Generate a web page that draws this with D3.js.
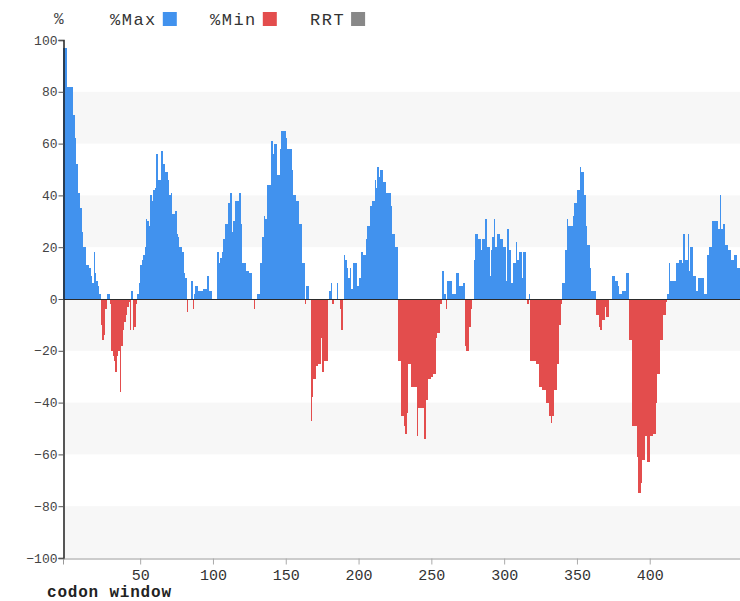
<!DOCTYPE html>
<html><head><meta charset="utf-8">
<script src="https://cdn.jsdelivr.net/npm/d3@7"></script>
<style>
body{margin:0;background:#fff}
svg{display:block}
text{font-family:"Liberation Mono","Courier New",monospace}
</style>
</head><body>
<svg id="chart" width="740" height="601"></svg>
<script>
// ---- data ----
const firstWindow = -3;
const minMax = [
97,97,97,82,82,82,82,71,62,52,
41,41,35,26,20,20,13,13,12,9,
6,18,10,7,5,2,-10,-16,-14,-4,
2,2,-2,-20,-22,-24,-28,-22,-20,-36,
-18,-12,-9,-6,-3,-1,-12,3,-12,-11,
-2,2,6,13,15,17,20,31,30,28,
40,38,42,43,56,46,46,57,57,52,
49,49,46,40,41,33,33,34,25,24,
20,20,18,10,8,-5,0,0,7,-4,
2,5,5,3,3,3,4,4,4,9,
3,3,0,0,0,0,18,14,16,18,
23,29,29,37,37,41,26,30,38,38,
38,41,29,14,14,14,11,11,10,10,
0,-4,0,2,2,14,14,24,32,31,
44,44,44,61,56,60,60,48,48,58,
65,65,65,62,58,58,58,50,40,40,
38,38,29,29,14,14,-2,5,5,0,
-47,-38,-31,-31,-26,-25,-25,-15,-28,-24,
-24,-24,0,3,6,-2,0,0,6,0,
-4,-12,0,17,15,12,8,12,4,14,
14,14,5,8,8,18,17,17,23,28,
28,36,38,38,46,43,51,47,50,50,
45,45,41,41,41,36,25,25,20,20,
-24,-24,-45,-45,-49,-52,-44,-25,-25,-34,
-34,-34,-34,-53,-42,-42,-42,-42,-54,-39,
-39,-31,-31,-30,-29,-29,-15,-13,-13,-2,
11,11,2,-4,7,7,7,2,2,2,
10,10,5,5,5,6,-18,-20,-20,-11,
-4,0,15,25,25,23,23,19,23,23,
31,20,20,9,19,24,31,20,25,25,
23,23,20,20,7,27,19,19,6,14,
14,22,15,18,18,8,18,18,0,-2,
2,-24,-24,-24,-24,-25,-25,-34,-34,-35,
-35,-35,-40,-40,-45,-48,-45,-35,-35,-25,
-25,-10,-2,6,6,19,31,28,28,28,
32,37,37,42,42,51,49,49,40,28,
21,21,12,3,3,3,-6,-6,-11,-12,
-8,-8,-3,-7,-7,0,0,9,9,7,
7,5,2,2,3,3,3,10,10,-16,
-16,-49,-49,-49,-61,-75,-75,-71,-62,-62,
-53,-63,-63,-53,-53,-52,-52,-40,-29,-29,
-16,-16,-6,-6,-1,2,14,7,7,7,
7,14,14,15,15,14,25,15,15,25,
11,20,20,9,9,3,8,8,8,8,
2,2,17,17,20,20,30,30,30,30,
27,40,27,29,29,21,21,19,19,15,
15,17,17,12,12
];
const yTicks = [-100,-80,-60,-40,-20,0,20,40,60,80,100];
const xTicks = [50,100,150,200,250,300,350,400];
const legendLabels = ["%Max","%Min","RRT"];
const legendColors = ["#4192ee","#e34d4d","#888888"];

// ---- layout ----
const svg = d3.select("#chart");
const mLeft = 63, mRight = 740, mTop = 40, mBottom = 558;

const x = d3.scaleLinear()
  .domain([firstWindow, firstWindow + minMax.length])
  .range([mLeft, mRight]);
const y = d3.scaleLinear().domain([-100, 100]).range([mBottom, mTop]);

const data = minMax.map((v, i) => ({w: firstWindow + i, v}));

// background bands
const bandStarts = yTicks.slice(0, -1).filter((t, i) => i % 2 === 0);
svg.append("g").selectAll("rect").data(bandStarts).join("rect")
  .attr("x", mLeft).attr("width", mRight - mLeft)
  .attr("y", d => y(d + 20)).attr("height", d => y(d) - y(d + 20))
  .attr("fill", "#f7f7f7");

// bars
svg.append("g").attr("shape-rendering", "crispEdges")
  .selectAll("rect").data(data.filter(d => d.v !== 0)).join("rect")
  .attr("x", d => x(d.w))
  .attr("width", d => x(d.w + 1) - x(d.w))
  .attr("y", d => d.v > 0 ? y(d.v) : y(0))
  .attr("height", d => Math.abs(y(d.v) - y(0)))
  .attr("fill", d => d.v > 0 ? legendColors[0] : legendColors[1]);

// zero line
svg.append("line")
  .attr("x1", mLeft).attr("x2", mRight)
  .attr("y1", y(0) + 0.5).attr("y2", y(0) + 0.5)
  .attr("stroke", "#2a2a2a").attr("stroke-width", 1.2);

// y axis
const gy = svg.append("g").attr("transform", `translate(${mLeft + 0.5},0)`)
  .call(d3.axisLeft(y).tickValues(yTicks).tickSize(5).tickPadding(1).tickFormat(d3.format("d")));
gy.select(".domain").attr("stroke", "#222").attr("stroke-width", 1.5);
gy.selectAll(".tick line").attr("stroke", "#555");
gy.selectAll(".tick text").attr("font-size", 13).attr("fill", "#444")
  .style("font-family", '"Liberation Mono",monospace');

// x axis
const gx = svg.append("g").attr("transform", `translate(0,${mBottom + 0.5})`)
  .call(d3.axisBottom(x).tickValues(xTicks).tickSize(6).tickPadding(5));
gx.select(".domain").attr("stroke", "#999");
gx.selectAll(".tick line").attr("stroke", "#aaa");
gx.selectAll(".tick text").attr("font-size", 15).attr("fill", "#333")
  .style("font-family", '"Liberation Mono",monospace');

svg.append("text").attr("x", 47).attr("y", 597)
  .attr("font-size", 16).attr("font-weight", "bold").attr("fill", "#222")
  .attr("letter-spacing", 0.8)
  .text("codon window");

// unit label + legend
svg.append("text").attr("x", 54).attr("y", 24)
  .attr("font-size", 16).attr("fill", "#444").text("%");

const legendX = [110, 210, 310];
const lg = svg.append("g").selectAll("g").data(legendLabels).join("g")
  .attr("transform", (d, i) => `translate(${legendX[i]},0)`);
lg.append("text").attr("x", 0).attr("y", 25)
  .attr("font-size", 17).attr("letter-spacing", 1.5).attr("fill", "#333").text(d => d);
lg.append("rect").attr("x", d => d.length * 11.7 + 6).attr("y", 12)
  .attr("width", 14).attr("height", 14)
  .attr("fill", (d, i) => legendColors[i]);
</script>
</body></html>
